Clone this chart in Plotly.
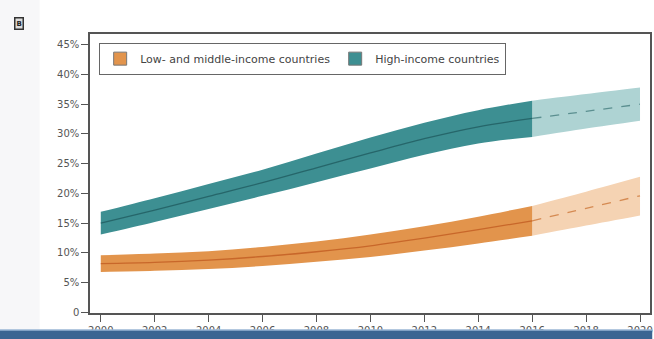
import plotly.graph_objects as go

# Estimates 2000-2016, projections 2016-2020 (percent)
years_hist = [2000, 2002, 2004, 2006, 2008, 2010, 2012, 2014, 2016]
years_proj = [2016, 2018, 2020]

lmic_mid = [8.2, 8.4, 8.8, 9.4, 10.2, 11.2, 12.5, 13.9, 15.4]
lmic_lo = [6.8, 7.0, 7.3, 7.8, 8.5, 9.3, 10.4, 11.6, 12.9]
lmic_hi = [9.6, 9.9, 10.3, 11.0, 11.9, 13.1, 14.5, 16.1, 17.9]
lmic_proj_mid = [15.4, 17.5, 19.6]
lmic_proj_lo = [12.9, 14.6, 16.3]
lmic_proj_hi = [17.9, 20.3, 22.8]

hic_mid = [15.0, 17.2, 19.5, 21.8, 24.3, 26.8, 29.2, 31.2, 32.6]
hic_lo = [13.1, 15.2, 17.4, 19.6, 21.9, 24.2, 26.5, 28.4, 29.5]
hic_hi = [16.9, 19.2, 21.6, 24.0, 26.7, 29.4, 31.9, 34.0, 35.6]
hic_proj_mid = [32.6, 33.8, 35.0]
hic_proj_lo = [29.5, 30.9, 32.2]
hic_proj_hi = [35.6, 36.7, 37.8]

x_ticks = list(range(2000, 2021, 2))
y_ticks = [0, 5, 10, 15, 20, 25, 30, 35, 40, 45]
y_tick_text = ["0"] + [f"{v}%" for v in y_ticks[1:]]

names = ["Low- and middle-income countries", "High-income countries"]

ORANGE_BAND = "#e2944c"
ORANGE_LINE = "#c8672a"
ORANGE_LIGHT = "#f5d3b3"
ORANGE_DASH = "#d58a52"
TEAL_BAND = "#3d8f92"
TEAL_LINE = "#26666a"
TEAL_LIGHT = "#aed3d3"
TEAL_DASH = "#5b8f90"

fig = go.Figure()


def add_band(x, lo, hi, mid, band, line, dash):
    fig.add_trace(go.Scatter(x=x, y=lo, mode="lines", line=dict(width=0, shape="spline"),
                             showlegend=False, hoverinfo="skip"))
    fig.add_trace(go.Scatter(x=x, y=hi, mode="lines", line=dict(width=0, shape="spline"),
                             fill="tonexty", fillcolor=band, showlegend=False, hoverinfo="skip"))
    fig.add_trace(go.Scatter(x=x, y=mid, mode="lines",
                             line=dict(color=line, width=1.3, dash=dash, shape="spline"),
                             showlegend=False))


add_band(years_proj, lmic_proj_lo, lmic_proj_hi, lmic_proj_mid, ORANGE_LIGHT, ORANGE_DASH, "dash")
add_band(years_hist, lmic_lo, lmic_hi, lmic_mid, ORANGE_BAND, ORANGE_LINE, "solid")
add_band(years_proj, hic_proj_lo, hic_proj_hi, hic_proj_mid, TEAL_LIGHT, TEAL_DASH, "dash")
add_band(years_hist, hic_lo, hic_hi, hic_mid, TEAL_BAND, TEAL_LINE, "solid")

# Legend entries
for name, col in zip(names, [ORANGE_BAND, TEAL_BAND]):
    fig.add_trace(go.Scatter(x=[None], y=[None], mode="markers", name=name,
                             marker=dict(symbol="square", size=13, color=col,
                                         line=dict(color="#777777", width=1))))

axis_common = dict(showline=True, linecolor="#555555", linewidth=1.5, mirror=True,
                   ticks="outside", ticklen=7, tickcolor="#555555", showgrid=False,
                   zeroline=False, tickfont=dict(family="DejaVu Sans", size=10, color="#555555"))

fig.update_xaxes(range=[1999.6, 2020.37], tickvals=x_ticks, **axis_common)
fig.update_yaxes(range=[-0.1, 46.8], tickvals=y_ticks, ticktext=y_tick_text, **axis_common)

fig.update_layout(
    width=654, height=339,
    margin=dict(l=90, r=2, t=34, b=26),
    plot_bgcolor="white", paper_bgcolor="white",
    font=dict(family="DejaVu Sans", size=10, color="#444444"),
    legend=dict(orientation="h", x=0.016, y=0.968, xanchor="left", yanchor="top",
                traceorder="normal",
                bordercolor="#666666", borderwidth=1.2, bgcolor="white",
                font=dict(family="DejaVu Sans", size=11, color="#444444"),
                itemwidth=30, tracegroupgap=0),
    showlegend=True,
    shapes=[
        dict(type="rect", xref="paper", yref="paper", x0=-0.161, x1=-0.09, y0=-0.1, y1=1.13,
             fillcolor="#f7f7f9", line=dict(width=0), layer="below"),
        dict(type="rect", xref="paper", yref="paper", x0=-0.161, x1=1.004, y0=-0.1, y1=-0.061,
             fillcolor="#3b6592", line=dict(width=0), layer="above"),
        dict(type="line", xref="paper", yref="paper", x0=-0.161, x1=1.004, y0=-0.061, y1=-0.061,
             line=dict(color="#9ab6d4", width=1.5), layer="above"),
    ],
    annotations=[
        dict(text="<b>B</b>", xref="paper", yref="paper", x=-0.135, y=1.06,
             showarrow=False, font=dict(family="DejaVu Sans", size=7, color="#222222"),
             bordercolor="#333333", borderwidth=1.5, borderpad=1, bgcolor="#dddddd"),
    ],
)

fig.write_html("out.html")
